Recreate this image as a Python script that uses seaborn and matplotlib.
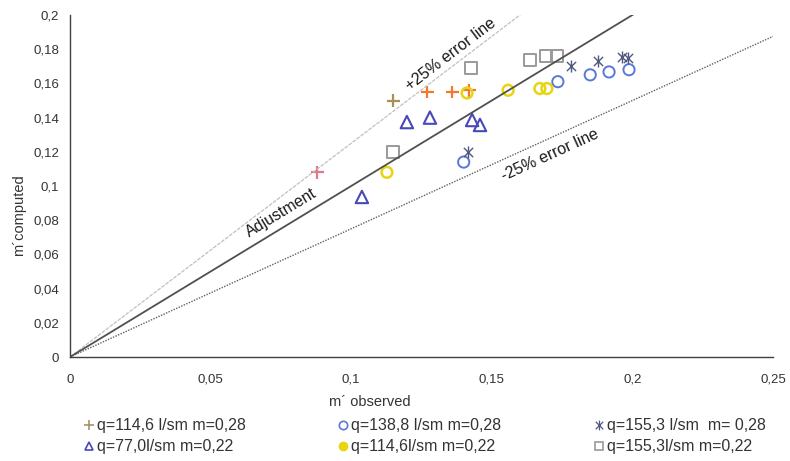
import numpy as np
import pandas as pd
import matplotlib
matplotlib.use("Agg")
import matplotlib.pyplot as plt
from matplotlib.path import Path
from matplotlib.lines import Line2D
import seaborn as sns

# ---------------- data ----------------
plus_x = [0.088, 0.115, 0.127, 0.136, 0.142]
plus_y = [0.108, 0.150, 0.155, 0.155, 0.156]
circ_x = [0.140, 0.1735, 0.185, 0.1917, 0.1988]
circ_y = [0.114, 0.161, 0.165, 0.1667, 0.168]
star_x = [0.1415, 0.178, 0.1878, 0.1963, 0.1984]
star_y = [0.120, 0.170, 0.173, 0.1754, 0.175]
tri_x = [0.1038, 0.1198, 0.128, 0.143, 0.1458]
tri_y = [0.0936, 0.1374, 0.140, 0.1386, 0.1357]
yel_x = [0.1127, 0.1412, 0.1558, 0.1671, 0.1696]
yel_y = [0.108, 0.1544, 0.156, 0.157, 0.157]
sq_x = [0.1149, 0.1426, 0.1636, 0.1693, 0.1732]
sq_y = [0.120, 0.169, 0.1737, 0.176, 0.176]

series_labels = ["q=114,6 l/sm m=0,28", "q=138,8 l/sm m=0,28", "q=155,3 l/sm  m= 0,28",
                 "q=77,0l/sm m=0,22", "q=114,6l/sm m=0,22", "q=155,3l/sm m=0,22"]

line_x = [0.0, 0.25]
line_factors = [1.25, 1.0, 0.75]
line_texts = ["+25% error line", "Adjustment", "-25% error line"]

x_ticks = [0, 0.05, 0.1, 0.15, 0.2, 0.25]
y_ticks = [0, 0.02, 0.04, 0.06, 0.08, 0.1, 0.12, 0.14, 0.16, 0.18, 0.2]

# ---------------- style ----------------
sns.set_style("white")
plt.rcParams['font.family'] = ['Liberation Sans', 'DejaVu Sans']

fig = plt.figure(figsize=(7.9, 4.61), dpi=100)
ax = fig.add_axes([70/790, 1-357/461, 703/790, 342/461])
ax.set_xlim(0, 0.25)
ax.set_ylim(0, 0.2)

# reference lines
line_styles = [dict(color="#c0c0c0", lw=0.9, ls=(0, (3, 1))),
               dict(color="#505050", lw=1.3, ls="-"),
               dict(color="#606060", lw=1.0, ls=(0, (1, 1)))]
for f, st in zip(line_factors, line_styles):
    df = pd.DataFrame({"x": line_x, "y": [f * v for v in line_x]})
    sns.lineplot(data=df, x="x", y="y", ax=ax, legend=False, **st)

# asterisk marker (x + vertical line)
star_path = Path([(-1, -1), (1, 1), (-1, 1), (1, -1), (0, -1.3), (0, 1.3)],
                 [Path.MOVETO, Path.LINETO, Path.MOVETO, Path.LINETO, Path.MOVETO, Path.LINETO])

plus_colors = ["#e07888", "#a89058", "#f07830", "#f07830", "#f07830"]
c_circ = "#5a78d8"
c_star = "#505a80"
c_tri = "#4848b8"
c_yel = "#e8d410"
c_sq = "#9a9a9a"

# plus series (per-point colours)
dfp = pd.DataFrame({"x": plus_x, "y": plus_y, "k": [str(i) for i in range(len(plus_x))]})
sns.scatterplot(data=dfp, x="x", y="y", hue="k", palette=plus_colors, marker="+",
                s=85, linewidth=1.6, ax=ax, legend=False)

sns.scatterplot(x=circ_x, y=circ_y, marker="o", s=65, facecolor="none",
                edgecolor=c_circ, linewidth=1.4, ax=ax)
sns.scatterplot(x=star_x, y=star_y, marker=star_path, s=75, color=c_star,
                edgecolor=c_star, linewidth=1.0, ax=ax)
sns.scatterplot(x=tri_x, y=tri_y, marker="^", s=80, facecolor="none",
                edgecolor=c_tri, linewidth=1.5, ax=ax)
sns.scatterplot(x=yel_x, y=yel_y, marker="o", s=60, facecolor="none",
                edgecolor=c_yel, linewidth=1.8, ax=ax)
sns.scatterplot(x=sq_x, y=sq_y, marker="s", s=75, facecolor="none",
                edgecolor=c_sq, linewidth=1.4, ax=ax)

# axes styling
for s in ["top", "right"]:
    ax.spines[s].set_visible(False)
for s in ["left", "bottom"]:
    ax.spines[s].set_color("#404040")
    ax.spines[s].set_linewidth(1.0)
ax.set_xticks(x_ticks)
ax.set_yticks(y_ticks)
fmt = lambda v: ("%g" % v).replace(".", ",")
ax.set_xticklabels([fmt(v) for v in x_ticks])
ax.set_yticklabels([fmt(v) for v in y_ticks])
ax.tick_params(direction="in", length=4, width=0.8, color="#404040",
               labelsize=9.5, labelcolor="#333333", pad=8)
ax.tick_params(axis="x", pad=12)
ax.set_xlabel("m´ observed", fontsize=10.5, color="#333333")
ax.set_ylabel("m´computed", fontsize=10.5, color="#333333")
ax.xaxis.set_label_coords(0.427, -0.111)
ax.yaxis.set_label_coords(-0.063, 0.415)

# line annotations, rotated along lines
text_pos = [(0.1355, 0.177), (0.075, 0.0842), (0.1708, 0.118)]
fig.canvas.draw()
for f, txt, (tx, ty) in zip(line_factors, line_texts, text_pos):
    p0 = ax.transData.transform((0, 0))
    p1 = ax.transData.transform((0.1, 0.1 * f))
    ang = np.degrees(np.arctan2(p1[1] - p0[1], p1[0] - p0[0]))
    ax.text(tx, ty, txt, rotation=ang, rotation_mode="anchor", ha="center", va="center",
            fontsize=11.5, color="#1a1a1a")

# legend, row-major via column ordering
h_plus = Line2D([], [], marker="+", ls="none", color="#a89070", ms=7, mew=1.2)
h_circ = Line2D([], [], marker="o", ls="none", mfc="none", mec=c_circ, ms=6, mew=1.2)
h_star = Line2D([], [], marker=star_path, ls="none", color=c_star, ms=7, mew=0.9)
h_tri = Line2D([], [], marker="^", ls="none", mfc="none", mec=c_tri, ms=6, mew=1.2)
h_yel = Line2D([], [], marker="o", ls="none", mfc=c_yel, mec=c_yel, ms=6)
h_sq = Line2D([], [], marker="s", ls="none", mfc="none", mec=c_sq, ms=6, mew=1.2)
handles = [h_plus, h_tri, h_circ, h_yel, h_star, h_sq]
labels = [series_labels[0], series_labels[3], series_labels[1], series_labels[4],
          series_labels[2], series_labels[5]]
fig.legend(handles, labels, ncol=3, loc="upper left", bbox_to_anchor=(70/790, 1-404/461),
           frameon=False, fontsize=11.5, handlelength=0.6, handletextpad=0.2,
           columnspacing=5.8, labelspacing=0.38, labelcolor="#333333")

fig.savefig("out.png", dpi=100)
